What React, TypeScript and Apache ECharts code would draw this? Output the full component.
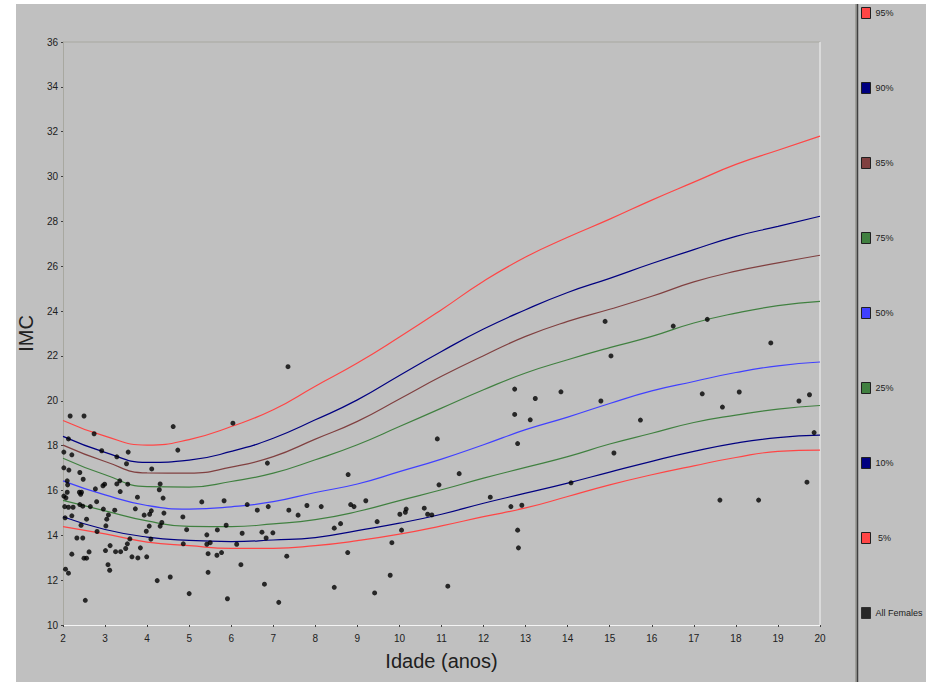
import React, { useEffect, useRef } from 'react';
import * as echarts from 'echarts';

// Percentile curves (IMC by age)
const ages = [2, 3, 4, 5, 6, 7, 8, 9, 10, 11, 12, 13, 14, 15, 16, 17, 18, 19, 20];
const p95 = [19.12, 18.42, 18.02, 18.27, 18.85, 19.6, 20.65, 21.68, 22.84, 24.06, 25.33, 26.41, 27.29, 28.1, 28.95, 29.75, 30.54, 31.17, 31.8];
const p90 = [18.41, 17.7, 17.25, 17.35, 17.74, 18.33, 19.15, 20.04, 21.13, 22.2, 23.2, 24.06, 24.83, 25.46, 26.12, 26.74, 27.33, 27.78, 28.23];
const p85 = [18.02, 17.29, 16.78, 16.77, 17.04, 17.51, 18.29, 19.08, 20.08, 21.09, 22.01, 22.87, 23.54, 24.08, 24.66, 25.3, 25.78, 26.15, 26.49];
const p75 = [17.44, 16.7, 16.17, 16.15, 16.4, 16.77, 17.37, 18.04, 18.85, 19.67, 20.49, 21.24, 21.83, 22.37, 22.87, 23.47, 23.91, 24.24, 24.43];
const p50 = [16.43, 15.8, 15.33, 15.17, 15.27, 15.5, 15.91, 16.29, 16.84, 17.4, 18.04, 18.71, 19.27, 19.88, 20.44, 20.86, 21.26, 21.56, 21.73];
const p25 = [15.56, 15.09, 14.64, 14.4, 14.39, 14.51, 14.7, 15.06, 15.55, 16.03, 16.55, 17.03, 17.51, 18.07, 18.55, 19.03, 19.36, 19.63, 19.79];
const p10 = [14.83, 14.26, 13.92, 13.77, 13.72, 13.79, 13.9, 14.21, 14.54, 14.94, 15.43, 15.88, 16.33, 16.82, 17.3, 17.74, 18.11, 18.36, 18.47];
const p5 = [14.39, 14.06, 13.7, 13.54, 13.42, 13.42, 13.54, 13.76, 14.05, 14.42, 14.83, 15.22, 15.73, 16.25, 16.7, 17.1, 17.47, 17.74, 17.8];

// Observations: All Females
const femAge = [
  2.17, 2.5, 2.74, 2.13, 2.02, 2.21, 2.92, 3.28, 3.55, 3.51, 4.11, 4.62, 4.73, 2.02, 2.14, 2.4, 2.48, 2.1, 2.11, 2.1,
  2.02, 2.07, 2.39, 2.44, 2.42, 2.77, 2.95, 2.99, 3.28, 3.35, 3.36, 3.54, 3.77, 4.31, 4.29, 4.38, 2.8, 2.04, 2.13, 2.24,
  2.4, 2.47, 2.65, 2.96, 3.23, 3.72, 4.1, 4.06, 3.93, 4.4, 3.08, 3.04, 2.56, 2.21, 2.05, 4.85, 2.43, 3.02, 4.35, 4.31,
  4.05, 4.94, 2.81, 3.98, 3.59, 4.09, 2.33, 2.47, 4.86, 3.12, 3.53, 3.49, 3.84, 3.01, 3.25, 3.37, 2.62, 2.21, 2.5, 2.56,
  3.64, 3.78, 3.99, 3.07, 3.11, 2.06, 2.13, 4.24, 4.55, 5.0, 2.53, 6.04, 6.86, 5.3, 5.83, 6.38, 6.88, 6.62, 7.37, 7.59,
  7.8, 8.14, 5.67, 5.88, 5.42, 6.26, 6.73, 6.99, 6.83, 8.45, 5.42, 5.5, 6.13, 5.45, 5.66, 5.77, 7.32, 6.23, 5.45, 6.79,
  8.45, 5.91, 7.13, 7.35, 12.74, 10.9, 12.81, 8.78, 11.42, 10.94, 9.2, 8.84, 8.92, 12.16, 12.65, 12.91, 10.16, 10.14, 10.01, 10.59,
  10.67, 10.77, 9.47, 8.6, 10.05, 12.81, 9.82, 12.83, 8.77, 9.78, 11.15, 9.41, 14.89, 15.03, 12.74, 13.84, 13.23, 14.79, 13.11, 15.73,
  15.1, 14.08, 16.51, 17.32, 18.83, 17.2, 18.08, 17.68, 19.5, 19.75, 19.86, 19.69, 17.62, 18.54,
];
const femImc = [
  19.32, 19.32, 18.53, 18.3, 17.71, 17.59, 17.77, 17.5, 17.71, 17.19, 16.96, 18.85, 17.8, 17.01, 16.91, 16.8, 16.5, 16.43, 16.25, 15.92,
  15.75, 15.67, 15.92, 15.92, 15.83, 16.07, 16.21, 16.28, 16.29, 16.43, 15.95, 16.28, 15.7, 16.29, 16.03, 15.66, 15.5, 15.28, 15.25, 15.25,
  15.37, 15.3, 15.28, 15.17, 15.12, 15.18, 15.09, 14.94, 14.9, 14.99, 14.91, 14.72, 14.72, 14.87, 14.78, 14.82, 14.45, 14.42, 14.57, 14.41,
  14.41, 14.25, 14.17, 14.18, 13.84, 13.83, 13.88, 13.88, 13.62, 13.54, 13.62, 13.41, 13.44, 13.32, 13.27, 13.27, 13.26, 13.16, 12.98, 12.98,
  13.04, 12.99, 13.04, 12.69, 12.44, 12.49, 12.31, 11.98, 12.14, 11.4, 11.1, 19.0, 17.22, 15.49, 15.54, 15.37, 15.28, 15.12, 15.12, 14.9,
  15.33, 15.28, 14.24, 14.45, 14.02, 14.09, 14.14, 14.11, 13.88, 14.32, 13.6, 13.67, 13.6, 13.18, 13.11, 13.23, 13.07, 12.69, 12.35, 11.82,
  11.68, 11.17, 11.01, 21.52, 19.39, 18.3, 18.09, 16.71, 16.75, 16.25, 15.54, 15.37, 15.28, 15.7, 15.28, 15.34, 15.17, 15.03, 14.94, 15.21,
  14.94, 14.91, 14.61, 14.52, 14.23, 14.23, 13.67, 13.44, 13.23, 12.22, 11.73, 11.43, 23.54, 22.0, 20.52, 20.4, 20.1, 19.99, 19.15, 19.14,
  17.67, 16.34, 23.33, 23.63, 22.58, 20.31, 20.39, 19.72, 19.99, 20.27, 18.58, 16.37, 15.57, 15.57,
];

const curveNames = ['95%', '90%', '85%', '75%', '50%', '25%', '10%', ' 5%'];
const curveValues = [p95, p90, p85, p75, p50, p25, p10, p5];
const curveColors = ['#ff4545', '#000080', '#804040', '#408040', '#4040ff', '#408040', '#000080', '#ff4545'];
const obsName = 'All Females';

const FONT = 'Liberation Sans, Arial, sans-serif';

export default function App() {
  const ref = useRef<HTMLDivElement>(null);
  useEffect(() => {
    const chart = echarts.init(ref.current!, null, { renderer: 'svg' });
    const lineSeries = curveNames.map((name, i) => ({
      name,
      type: 'line',
      data: ages.map((a, j) => [a, curveValues[i][j]]),
      smooth: 0.5,
      showSymbol: false,
      symbol: 'none',
      lineStyle: { color: curveColors[i], width: 1.2 },
      itemStyle: { color: curveColors[i] },
      z: 2,
    }));
    const option = {
      animation: false,
      backgroundColor: 'transparent',
      textStyle: { fontFamily: FONT },
      grid: { left: 63, top: 42, width: 757, height: 583, show: false },
      legend: {
        orient: 'vertical',
        left: 861,
        top: 7,
        padding: 0,
        itemWidth: 9,
        itemHeight: 11,
        itemGap: 63,
        icon: 'rect',
        itemStyle: { borderColor: '#202020', borderWidth: 1 },
        textStyle: { fontSize: 9, color: '#202020', fontFamily: FONT },
        data: [...curveNames, obsName],
        selectedMode: false,
      },
      xAxis: {
        type: 'value',
        min: 2,
        max: 20,
        interval: 1,
        name: 'Idade (anos)',
        nameLocation: 'middle',
        nameGap: 26,
        nameTextStyle: { fontSize: 20, color: '#202020', fontFamily: FONT },
        axisLine: { show: true, lineStyle: { color: '#f4f4f4', width: 1 } },
        axisTick: { show: true, length: 2, lineStyle: { color: '#404040' } },
        axisLabel: { fontSize: 10, color: '#202020', margin: 8, fontFamily: FONT },
        splitLine: { show: false },
      },
      yAxis: {
        type: 'value',
        min: 10,
        max: 36,
        interval: 2,
        name: 'IMC',
        nameLocation: 'middle',
        nameGap: 20,
        nameRotate: 90,
        nameTextStyle: { fontSize: 20, color: '#202020', fontFamily: FONT },
        axisLine: { show: true, lineStyle: { color: '#a8a8a0', width: 1 } },
        axisTick: { show: true, length: 2, lineStyle: { color: '#404040' } },
        axisLabel: { fontSize: 10, color: '#202020', margin: 5, fontFamily: FONT },
        splitLine: { show: false },
      },
      graphic: [
        { type: 'line', shape: { x1: 63, y1: 42, x2: 820, y2: 42 }, style: { stroke: '#a8a8a0', lineWidth: 1 } },
        { type: 'line', shape: { x1: 820, y1: 42, x2: 820, y2: 625 }, style: { stroke: '#f4f4f4', lineWidth: 1 } },
        { type: 'line', shape: { x1: 856, y1: 4, x2: 856, y2: 682 }, style: { stroke: '#808078', lineWidth: 1 } },
        { type: 'line', shape: { x1: 857.5, y1: 4, x2: 857.5, y2: 682 }, style: { stroke: '#404040', lineWidth: 1.5 } },
      ],
      series: [
        ...lineSeries,
        {
          name: obsName,
          type: 'scatter',
          data: femAge.map((a, i) => [a, femImc[i]]),
          symbolSize: 5,
          itemStyle: { color: '#000000' },
          z: 5,
        },
      ],
    };
    chart.setOption(option as any);
    return () => chart.dispose();
  }, []);
  return (
    <div style={{ position: 'absolute', left: 0, top: 0, width: 931, height: 682, background: '#ffffff', overflow: 'hidden' }}>
      <div style={{ position: 'absolute', left: 16, top: 4, width: 910, height: 678, background: '#c0c0c0' }} />
      <div ref={ref} style={{ position: 'absolute', left: 0, top: 0, width: 931, height: 682 }} />
    </div>
  );
}
